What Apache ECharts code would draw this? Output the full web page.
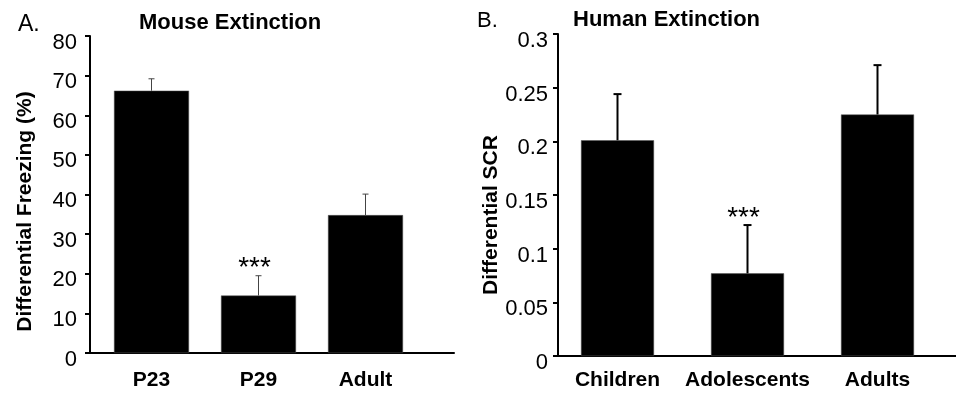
<!DOCTYPE html>
<html><head><meta charset="utf-8">
<script src="https://cdn.jsdelivr.net/npm/echarts@6/dist/echarts.min.js"></script>
<style>html,body{margin:0;padding:0;background:#fff}#c{width:956px;height:395px}</style>
</head><body><div id="c"></div>
<script>
const mouseCategories = ['P23', 'P29', 'Adult'];
const mouseMeans = [66.2, 14.5, 34.8];
const mouseErrors = [3.0, 5.0, 5.3];
const mouseSig = ['', '***', ''];
const mouseAxis = { min: 0, max: 80, interval: 10 };

const humanCategories = ['Children', 'Adolescents', 'Adults'];
const humanMeans = [0.201, 0.077, 0.225];
const humanErrors = [0.043, 0.045, 0.046];
const humanSig = ['', '***', ''];
const humanAxis = { min: 0, max: 0.3, interval: 0.05 };

const FONT = '"Liberation Sans", Arial, Helvetica, sans-serif';

function errSeries(axisIdx, means, errs, sig, color, lw, cap) {
  return {
    type: 'custom', xAxisIndex: axisIdx, yAxisIndex: axisIdx, z: 5,
    encode: { x: 0, y: [1, 2] },
    data: means.map((m, i) => [i, m, m + errs[i]]),
    renderItem(params, api) {
      const b = api.coord([api.value(0), api.value(1)]);
      const t = api.coord([api.value(0), api.value(2)]);
      const children = [
        { type: 'line', shape: { x1: b[0], y1: b[1], x2: t[0], y2: t[1] }, style: { stroke: color, lineWidth: lw } },
        { type: 'line', shape: { x1: t[0] - cap / 2, y1: t[1], x2: t[0] + cap / 2, y2: t[1] }, style: { stroke: color, lineWidth: lw } }
      ];
      const s = sig[params.dataIndex];
      if (s) {
        children.push({ type: 'text', x: t[0] - 4, y: t[1] - 7,
          style: { text: s, fontSize: 28, fontFamily: FONT, fill: '#000', align: 'center', verticalAlign: 'middle' } });
      }
      return { type: 'group', children };
    }
  };
}

const axisLine = { show: true, lineStyle: { color: '#000', width: 2 } };
const chart = echarts.init(document.getElementById('c'));
chart.setOption({
  backgroundColor: '#fff',
  animation: false,
  textStyle: { fontFamily: FONT },
  title: [
    { text: 'A.', left: 18, top: 13, padding: 0, textStyle: { fontSize: 23, fontWeight: 'normal', color: '#000', fontFamily: FONT } },
    { text: 'Mouse Extinction', left: 139, top: 12, padding: 0, textStyle: { fontSize: 22, fontWeight: 'bold', color: '#000', fontFamily: FONT } },
    { text: 'B.', left: 477, top: 10, padding: 0, textStyle: { fontSize: 22, fontWeight: 'normal', color: '#000', fontFamily: FONT } },
    { text: 'Human Extinction', left: 573, top: 9, padding: 0, textStyle: { fontSize: 22, fontWeight: 'bold', color: '#000', fontFamily: FONT } }
  ],
  grid: [
    { left: 90, top: 36, width: 364, height: 317 },
    { left: 98, top: 36, width: 321, height: 317 },
    { left: 558, top: 34, width: 398, height: 322 },
    { left: 552.5, top: 34, width: 390, height: 322 }
  ],
  xAxis: [
    { gridIndex: 0, type: 'value', min: 0, max: 1, axisLine, axisTick: { show: false }, axisLabel: { show: false }, splitLine: { show: false } },
    { gridIndex: 1, type: 'category', data: mouseCategories, axisLine: { show: false }, axisTick: { show: false },
      axisLabel: { interval: 0, fontSize: 21, fontWeight: 'bold', color: '#000', margin: 17, fontFamily: FONT } },
    { gridIndex: 2, type: 'value', min: 0, max: 1, axisLine, axisTick: { show: false }, axisLabel: { show: false }, splitLine: { show: false } },
    { gridIndex: 3, type: 'category', data: humanCategories, axisLine: { show: false }, axisTick: { show: false },
      axisLabel: { interval: 0, fontSize: 21, fontWeight: 'bold', color: '#000', margin: 14, fontFamily: FONT } }
  ],
  yAxis: [
    { gridIndex: 0, type: 'value', min: mouseAxis.min, max: mouseAxis.max, interval: mouseAxis.interval,
      axisLine, axisTick: { show: true, length: 5, lineStyle: { color: '#000', width: 2 } },
      axisLabel: { fontSize: 22, color: '#000', margin: 13, fontFamily: FONT, verticalAlign: 'top', lineHeight: 13 }, splitLine: { show: false },
      name: 'Differential Freezing (%)', nameLocation: 'middle', nameRotate: 90, nameGap: 54,
      nameTextStyle: { fontSize: 21, fontWeight: 'bold', color: '#000', fontFamily: FONT, padding: [0, 34, 0, 0] } },
    { gridIndex: 1, type: 'value', min: mouseAxis.min, max: mouseAxis.max, show: false },
    { gridIndex: 2, type: 'value', min: humanAxis.min, max: humanAxis.max, interval: humanAxis.interval,
      axisLine, axisTick: { show: true, length: 5, lineStyle: { color: '#000', width: 2 } },
      axisLabel: { fontSize: 22, color: '#000', margin: 10, fontFamily: FONT, verticalAlign: 'top', lineHeight: 14 }, splitLine: { show: false },
      name: 'Differential SCR', nameLocation: 'middle', nameRotate: 90, nameGap: 53,
      nameTextStyle: { fontSize: 21, fontWeight: 'bold', color: '#000', fontFamily: FONT, padding: [0, 40, 0, 0] } },
    { gridIndex: 3, type: 'value', min: humanAxis.min, max: humanAxis.max, show: false }
  ],
  series: [
    { type: 'bar', xAxisIndex: 1, yAxisIndex: 1, data: mouseMeans, barWidth: 75,
      itemStyle: { color: '#000', borderColor: '#555', borderWidth: 0.5 } },
    errSeries(1, mouseMeans, mouseErrors, mouseSig, '#444', 1, 6),
    { type: 'bar', xAxisIndex: 3, yAxisIndex: 3, data: humanMeans, barWidth: 73,
      itemStyle: { color: '#000', borderColor: '#555', borderWidth: 0.5 } },
    errSeries(3, humanMeans, humanErrors, humanSig, '#000', 2, 8)
  ]
});
</script>
</body></html>
